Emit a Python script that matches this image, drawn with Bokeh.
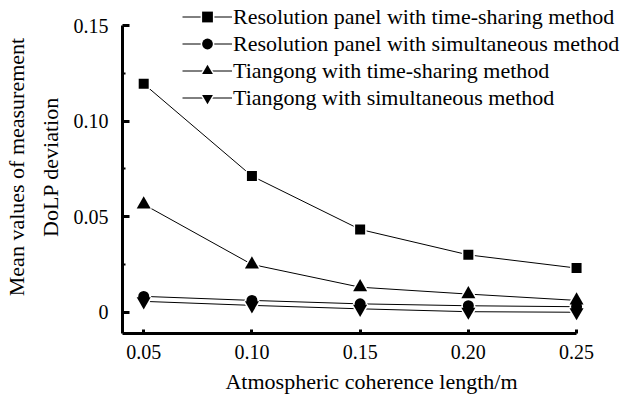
from bokeh.plotting import figure
from bokeh.models import Legend, LegendItem, FixedTicker, Range1d, Title
from bokeh.embed import file_html
from bokeh.resources import INLINE

# ---- data ----
coherence_length = [0.05, 0.10, 0.15, 0.20, 0.25]
panel_time_sharing = [0.1195, 0.0713, 0.0434, 0.0301, 0.0232]
panel_simultaneous = [0.0084, 0.0063, 0.0045, 0.0035, 0.0030]
tiangong_time_sharing = [0.0565, 0.0251, 0.0132, 0.0096, 0.0063]
tiangong_simultaneous = [0.0058, 0.0037, 0.0019, 0.0004, 0.0001]

series_names = [
    "Resolution panel with time-sharing method",
    "Resolution panel with simultaneous method",
    "Tiangong with time-sharing method",
    "Tiangong with simultaneous method",
]

x_ticks = [0.05, 0.10, 0.15, 0.20, 0.25]
x_tick_labels = ["0.05", "0.10", "0.15", "0.20", "0.25"]
y_ticks = [0, 0.05, 0.10, 0.15]
y_tick_labels = ["0", "0.05", "0.10", "0.15"]
y_minor_ticks = [0.025, 0.075, 0.125]
x_title = "Atmospheric coherence length/m"
y_title_lines = ["Mean values of measurement", "DoLP deviation"]

FONT = "Liberation Serif"

p = figure(frame_width=498, frame_height=333, output_backend="svg", toolbar_location=None,
           x_range=Range1d(0.0402, 0.2703), y_range=Range1d(-0.011, 0.16307),
           min_border_left=122, min_border_right=0, min_border_top=0,
           min_border_bottom=61)
p.outline_line_color = None
p.grid.visible = False
p.background_fill_color = "white"
p.border_fill_color = "white"

# axes
for ax in (p.xaxis, p.yaxis):
    ax.axis_line_width = 3
    ax.axis_line_color = "black"
    ax.major_tick_line_width = 3
    ax.major_tick_line_color = "black"
    ax.major_tick_out = 0
    ax.minor_tick_out = 0
    ax.major_label_text_font = FONT
    ax.major_label_text_font_size = "20px"
    ax.major_label_text_font_style = "normal"
    ax.major_label_text_color = "black"
    ax.axis_label_text_font = FONT
    ax.axis_label_text_font_size = "22px"
    ax.axis_label_text_font_style = "normal"
    ax.axis_label_text_color = "black"

p.xaxis.bounds = (0.0402, 0.25)
p.xaxis.ticker = FixedTicker(ticks=x_ticks, minor_ticks=[])
p.xaxis.major_label_overrides = dict(zip(x_ticks, x_tick_labels))
p.xaxis.major_tick_in = 4
p.xaxis.minor_tick_in = 0
p.xaxis.major_label_standoff = 11
p.xaxis.axis_label = x_title
p.xaxis.axis_label_standoff = 7

p.yaxis.bounds = (-0.011, 0.15)
p.yaxis.ticker = FixedTicker(ticks=y_ticks, minor_ticks=y_minor_ticks)
p.yaxis.major_label_overrides = dict(zip(y_ticks, y_tick_labels))
p.yaxis.major_tick_in = 7
p.yaxis.minor_tick_in = 3
p.yaxis.minor_tick_line_width = 2
p.yaxis.minor_tick_line_color = "black"
p.yaxis.major_label_standoff = 14

# two-line y title, each line centred
for i, line in enumerate(reversed(y_title_lines)):
    t = Title(text=line, align="center", text_font=FONT, text_font_size="22px",
              text_font_style="normal", text_color="black",
              standoff=15 if i == 0 else 0, offset=0)
    p.add_layout(t, "left")

all_series = [panel_time_sharing, panel_simultaneous, tiangong_time_sharing, tiangong_simultaneous]
markers = ["square", "circle", "triangle", "inverted_triangle"]
sizes = [10, 11, 14, 14]

line_rs = []
for ys in all_series:
    line_rs.append(p.line(coherence_length, ys, line_color="black", line_width=1))

halo_rs = []
for ys, m, s in zip(all_series, markers, sizes):
    halo_rs.append(p.scatter(coherence_length, ys, marker=m, size=s,
                             fill_color="black", line_color="white", line_width=3))

mark_rs = []
for ys, m, s in zip(all_series, markers, sizes):
    mark_rs.append(p.scatter(coherence_length, ys, marker=m, size=s,
                             fill_color="black", line_color=None))

items = [LegendItem(label=n, renderers=[l, h, mk])
         for n, l, h, mk in zip(series_names, line_rs, halo_rs, mark_rs)]
legend = Legend(items=items, location=(60, 222), orientation="vertical",
                glyph_width=50, glyph_height=27, label_height=26, spacing=0,
                padding=0, margin=0, label_standoff=1,
                label_text_font=FONT, label_text_font_size="22px",
                label_text_color="black",
                border_line_color=None, background_fill_alpha=0)
p.add_layout(legend, "center")

open("out.html", "w").write(file_html(p, INLINE))
